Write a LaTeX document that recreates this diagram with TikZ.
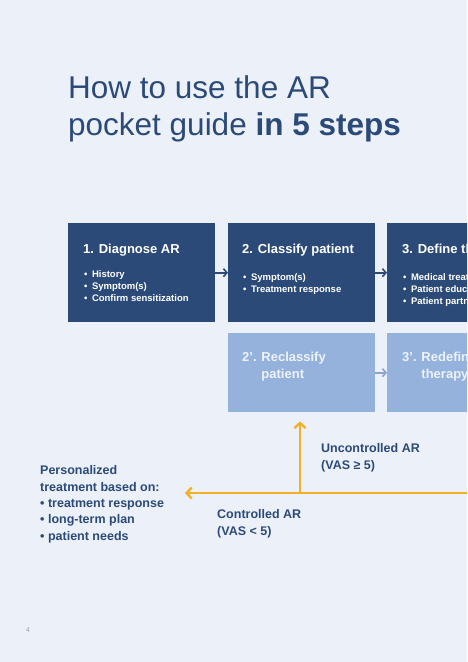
\documentclass[tikz,border=0pt]{standalone}
\usepackage{fontspec}
\setmainfont{Liberation Sans}
\usepackage{tikz}
\usetikzlibrary{arrows.meta}

\definecolor{navy}{HTML}{2B4A78}
\definecolor{paleblue}{HTML}{94B2DC}
\definecolor{pagebg}{HTML}{ECF1F9}
\definecolor{retext}{HTML}{EEF3FB}
\definecolor{amber}{HTML}{F1B025}
\definecolor{softarrow}{HTML}{8CA3D2}
\definecolor{pagegray}{HTML}{9AA3B0}

\newcommand{\bul}{•\hspace{4.5pt}}

\begin{document}
\begin{tikzpicture}[x=1pt, y=-1pt,
  box/.style={rectangle, fill=navy, anchor=north west, minimum width=147pt, minimum height=99pt, inner sep=0pt},
  rebox/.style={box, fill=paleblue, minimum height=79pt},
  boxtitle/.style={anchor=base west, inner sep=0pt, text=white, align=left, font=\fontsize{13}{17}\selectfont\bfseries},
  retitle/.style={boxtitle, text=retext},
  boxlist/.style={anchor=base west, inner sep=0pt, text=white, align=left, font=\fontsize{9.5}{12.4}\selectfont\bfseries},
  note/.style={anchor=base west, inner sep=0pt, text=navy, align=left, font=\fontsize{12.5}{16.3}\selectfont\bfseries},
  stepto/.style={-{Straight Barb[length=3.5pt, width=8pt]}, line width=1.6pt, navy},
  restepto/.style={stepto, softarrow},
  decision/.style={-{Straight Barb[length=5pt, width=11pt]}, line width=2.4pt, amber}]
  \clip (0,0) rectangle (467,662);
  \fill [pagebg] (0,0) rectangle (467,662);

  % title (multi-line nodes sit on their last baseline)
  \node [anchor=base west, inner sep=0pt, text=navy, align=left, font=\fontsize{31.5}{37}\selectfont] (title) at (68,135)
    {How to use the AR\\pocket guide \textbf{in 5 steps}};

  % main steps
  \node [box] (diagnose) at (68,223) {};
  \node [box] (classify) at (228,223) {};
  \node [box] (define) at (387,223) {};
  \node [boxtitle] (t1) at (83,253) {1. Diagnose AR};
  \node [boxtitle] (t2) at (242,253) {2. Classify patient};
  \node [boxtitle] (t3) at (402,253) {3. Define therapy};
  \node [boxlist] (l1) at (84,301.8) {\bul History\\\bul Symptom(s)\\\bul Confirm sensitization};
  \node [boxlist] (l2) at (243,292.4) {\bul Symptom(s)\\\bul Treatment response};
  \node [boxlist] (l3) at (403,304.8) {\bul Medical treatment\\\bul Patient education\\\bul Patient partnership};
  \draw [stepto] (diagnose.east) -- (classify.west);
  \draw [stepto] (classify.east) -- (define.west);

  % re-steps
  \node [rebox] (reclassify) at (228,333) {};
  \node [rebox] (redefine) at (387,333) {};
  \node [retitle] (t2r) at (242,378) {2’. Reclassify\\\phantom{2’. }patient};
  \node [retitle] (t3r) at (402,378) {3’. Redefine\\\phantom{3’. }therapy};
  \draw [restepto] (reclassify.east) -- (redefine.west);

  % control decision
  \coordinate (offpage) at (475,493);
  \coordinate (split) at (300,493);
  \coordinate (tip) at (185,493);
  \draw [decision] (offpage) -- (tip);
  \draw [decision, shorten >=9pt] (split) -- (split |- reclassify.south);
  \node [note] (unctrl) at (321,469) {Uncontrolled AR\\(VAS ≥ 5)};
  \node [note] (ctrl) at (217,535) {Controlled AR\\(VAS < 5)};
  \node [note] (plan) at (40,540) {Personalized\\treatment based on:\\• treatment response\\• long-term plan\\• patient needs};

  \node [anchor=base west, inner sep=0pt, text=pagegray, font=\fontsize{7}{8}\selectfont] (pageno) at (26,632) {4};
\end{tikzpicture}
\end{document}
